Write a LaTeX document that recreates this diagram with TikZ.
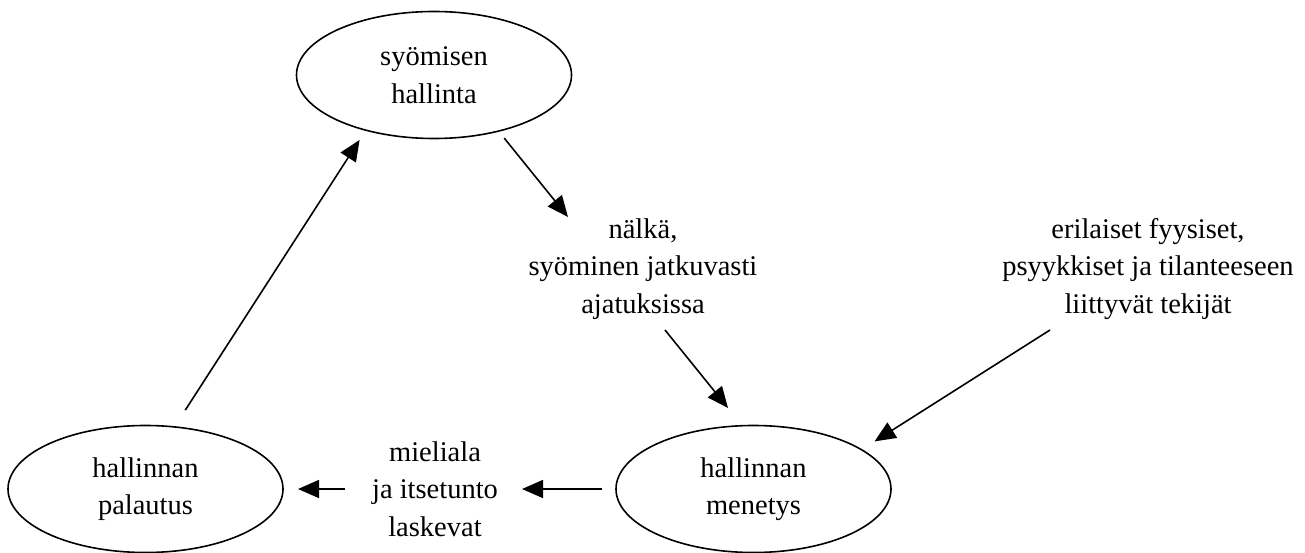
\documentclass[tikz,border=0pt]{standalone}
\usepackage{fontspec}
\setmainfont{Liberation Serif}
\usetikzlibrary{arrows.meta,shapes.geometric}
\tikzset{
  state/.style={draw, ellipse, line width=1.6pt, minimum width=275pt,
    minimum height=127pt, inner sep=0pt, outer sep=0pt, align=center},
  lbl/.style={align=center, inner sep=0pt},
  flow/.style={line width=1.6pt, -{Triangle[length=21pt,width=18pt]}},
}
\begin{document}
\begin{tikzpicture}[x=1pt, y=-1pt,
  every node/.style={font=\fontsize{28.5}{37.5}\selectfont}]
\useasboundingbox (0,0) rectangle (1305,553);

% the three states of the cycle
\node[state] (ctrl) at (434,75)    {syömisen\\hallinta};
\node[state] (back) at (145.5,489) {hallinnan\\palautus};
\node[state] (loss) at (753.5,489) {hallinnan\\menetys};

% free-standing labels between the states
\node[lbl] (hunger)  at (643,269)  {nälkä,\\syöminen jatkuvasti\\ajatuksissa};
\node[lbl] (factors) at (1148,269) {erilaiset fyysiset,\\psyykkiset ja tilanteeseen\\liittyvät tekijät};
\node[lbl] (mood)    at (435,489)  {mieliala\\ja itsetunto\\laskevat};

% connectors
\draw[flow, shorten <=20pt, shorten >=11.6pt] (back.65.3) -- (ctrl.219.2);
\draw[flow, shorten <=9.1pt] (ctrl.319.4) -- ([shift={(-75,-52)}]hunger.center);
\draw[flow, shorten >=22.8pt] ([shift={(22,61)}]hunger.center) -- (loss.100);
\draw[flow, shorten >=15.5pt] ([shift={(-98,61)}]factors.center) -- (loss.20.3);
\draw[flow, shorten <=14pt] (loss.west) -- ([shift={(87,0)}]mood.center);
\draw[flow, shorten >=15pt] ([shift={(-90,0)}]mood.center) -- (back.east);
\end{tikzpicture}
\end{document}
